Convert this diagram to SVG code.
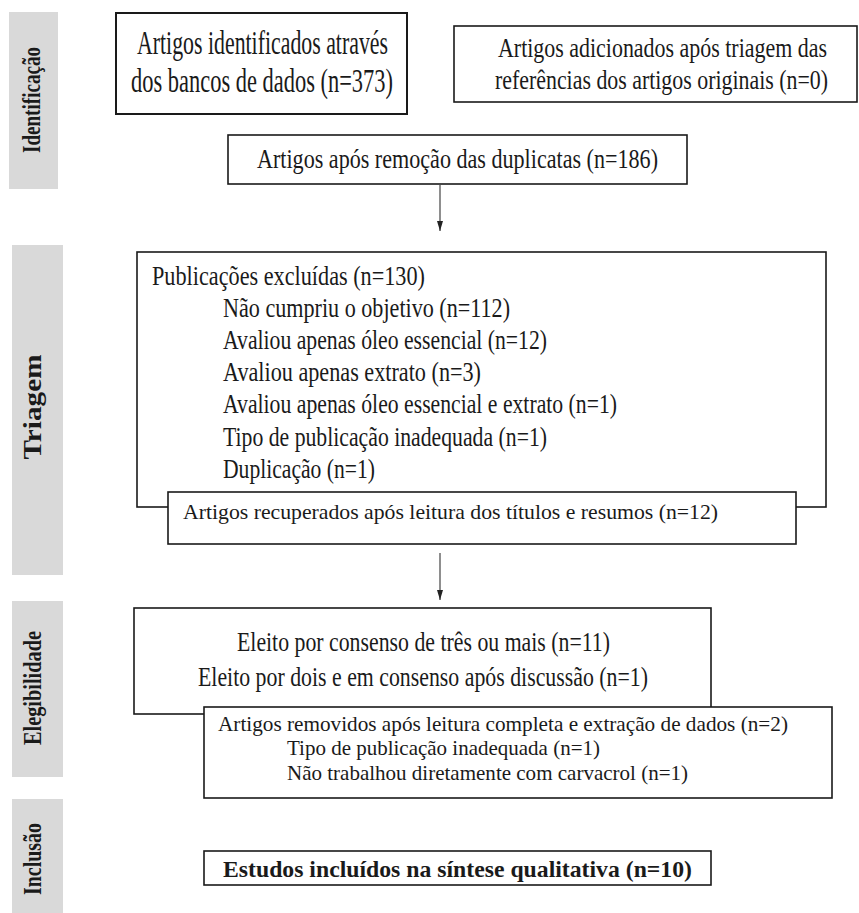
<svg xmlns="http://www.w3.org/2000/svg" width="859" height="913" viewBox="0 0 859 913">
<defs>
<style>
.side{fill:#d9d9d9;stroke:none}
.lab{font-family:"Liberation Serif","Times New Roman",serif;font-weight:bold;font-size:25px;fill:#1a1a1a;text-anchor:middle}
.box{fill:#fff;stroke:#1a1a1a;stroke-width:1.6}
.t{font-family:"Liberation Serif","Times New Roman",serif;fill:#1a1a1a}
.conn{stroke:#444;stroke-width:1.2;fill:none}
</style>
<marker id="ah" viewBox="0 0 10 6" refX="10" refY="3" markerWidth="10" markerHeight="6" markerUnits="userSpaceOnUse" orient="auto">
<path d="M0,0 L10,3 L0,6 Z" fill="#222"/>
</marker>
</defs>
<rect width="859" height="913" fill="#fff"/>

<g id="stage-identificacao">
<rect class="side" x="9" y="12" width="49" height="177"/>
<text class="lab" transform="translate(40,100) rotate(-90)" textLength="106" lengthAdjust="spacingAndGlyphs">Identificação</text>
</g>
<g id="stage-triagem">
<rect class="side" x="12" y="245" width="51" height="330"/>
<text class="lab" transform="translate(41,407) rotate(-90)" textLength="105" lengthAdjust="spacingAndGlyphs">Triagem</text>
</g>
<g id="stage-elegibilidade">
<rect class="side" x="12" y="601" width="51" height="176"/>
<text class="lab" transform="translate(41,688) rotate(-90)" textLength="114" lengthAdjust="spacingAndGlyphs">Elegibilidade</text>
</g>
<g id="stage-inclusao">
<rect class="side" x="12" y="799" width="51" height="114"/>
<text class="lab" transform="translate(41,859) rotate(-90)" textLength="72" lengthAdjust="spacingAndGlyphs">Inclusão</text>
</g>

<g id="connectors">
<line class="conn" x1="440" y1="185" x2="440" y2="231" marker-end="url(#ah)"/>
<line class="conn" x1="440" y1="553" x2="440" y2="600" marker-end="url(#ah)"/>
</g>

<g id="node-identificados">
<rect class="box" x="116" y="13" width="291" height="101" style="stroke-width:2"/>
<text class="t" x="137" y="54" font-size="33" textLength="251" lengthAdjust="spacingAndGlyphs">Artigos identificados através</text>
<text class="t" x="131" y="92" font-size="33" textLength="262" lengthAdjust="spacingAndGlyphs">dos bancos de dados  (n=373)</text>
</g>

<g id="node-adicionados">
<rect class="box" x="454" y="26" width="403" height="76"/>
<text class="t" transform="translate(498,57) scale(1,1.3)" font-size="21" textLength="329" lengthAdjust="spacingAndGlyphs">Artigos adicionados após triagem das</text>
<text class="t" transform="translate(495,89) scale(1,1.3)" font-size="21" textLength="333" lengthAdjust="spacingAndGlyphs">referências dos artigos originais (n=0)</text>
</g>

<g id="node-duplicatas">
<rect class="box" x="228" y="135" width="459" height="49"/>
<text class="t" x="257" y="168" font-size="28" textLength="401" lengthAdjust="spacingAndGlyphs">Artigos após remoção das duplicatas  (n=186)</text>
</g>

<g id="node-excluidas">
<rect class="box" x="137" y="252" width="689" height="255"/>
<text class="t" x="152" y="285" font-size="27" textLength="273" lengthAdjust="spacingAndGlyphs">Publicações excluídas  (n=130)</text>
<text class="t" x="223" y="317" font-size="27" textLength="287" lengthAdjust="spacingAndGlyphs">Não cumpriu o objetivo  (n=112)</text>
<text class="t" x="223" y="349" font-size="27" textLength="324" lengthAdjust="spacingAndGlyphs">Avaliou apenas óleo essencial (n=12)</text>
<text class="t" x="223" y="381" font-size="27" textLength="258" lengthAdjust="spacingAndGlyphs">Avaliou apenas extrato  (n=3)</text>
<text class="t" x="223" y="413" font-size="27" textLength="394" lengthAdjust="spacingAndGlyphs">Avaliou apenas óleo essencial e extrato (n=1)</text>
<text class="t" x="223" y="446" font-size="27" textLength="324" lengthAdjust="spacingAndGlyphs">Tipo de publicação inadequada (n=1)</text>
<text class="t" x="223" y="478" font-size="27" textLength="152" lengthAdjust="spacingAndGlyphs">Duplicação (n=1)</text>
</g>

<g id="node-recuperados">
<rect class="box" x="168" y="492" width="628" height="52"/>
<text class="t" x="183" y="519" font-size="22" textLength="535" lengthAdjust="spacingAndGlyphs">Artigos recuperados após leitura dos títulos e resumos (n=12)</text>
</g>

<g id="node-eleitos">
<rect class="box" x="134" y="608" width="577" height="106"/>
<text class="t" x="237" y="651" font-size="28" textLength="373" lengthAdjust="spacingAndGlyphs">Eleito por consenso de três ou mais (n=11)</text>
<text class="t" x="198" y="686" font-size="28" textLength="450" lengthAdjust="spacingAndGlyphs">Eleito por dois e em consenso após discussão (n=1)</text>
</g>

<g id="node-removidos">
<rect class="box" x="204" y="707" width="628" height="91"/>
<text class="t" x="218" y="731" font-size="21" textLength="570" lengthAdjust="spacingAndGlyphs">Artigos removidos após leitura completa e extração de dados  (n=2)</text>
<text class="t" x="287" y="755" font-size="21" textLength="313" lengthAdjust="spacingAndGlyphs">Tipo de publicação inadequada (n=1)</text>
<text class="t" x="287" y="780" font-size="21" textLength="401" lengthAdjust="spacingAndGlyphs">Não trabalhou diretamente com carvacrol (n=1)</text>
</g>

<g id="node-incluidos">
<rect class="box" x="204" y="851" width="507" height="34"/>
<text class="t" x="223" y="877" font-size="24" font-weight="bold" textLength="469" lengthAdjust="spacingAndGlyphs">Estudos incluídos na síntese qualitativa  (n=10)</text>
</g>
</svg>
